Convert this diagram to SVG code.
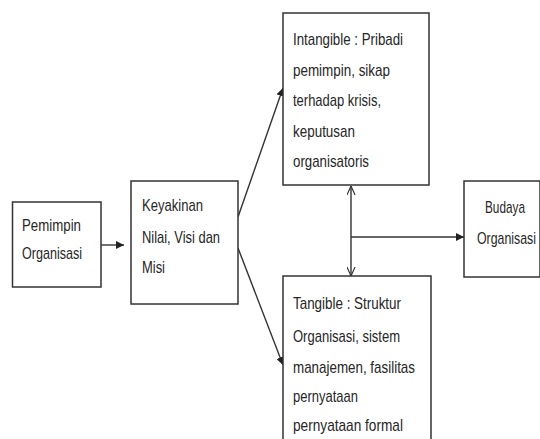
<svg xmlns="http://www.w3.org/2000/svg" width="540" height="439" viewBox="0 0 540 439">
<style>
.box{fill:#fff;stroke:#333;stroke-width:1.5}
.t{font-family:"Liberation Sans",Arial,sans-serif;font-size:17px;fill:#262626}
.e{text-anchor:end}
.c{fill:none;stroke:#333;stroke-width:1.4}
</style>
<defs>
<marker id="fa" viewBox="0 0 10 10" refX="10" refY="5" markerWidth="8" markerHeight="8" markerUnits="userSpaceOnUse" orient="auto">
<path d="M0,0 L10,5 L0,10 z" fill="#222"/>
</marker>
<marker id="oa" viewBox="0 0 10 10" refX="10" refY="5" markerWidth="10" markerHeight="9" markerUnits="userSpaceOnUse" orient="auto-start-reverse">
<path d="M0,0.5 L10,5 L0,9.5" fill="none" stroke="#333" stroke-width="1.3"/>
</marker>
</defs>
<rect width="540" height="439" fill="#fff"/>
<g id="connectors">
<line class="c" x1="101" y1="245" x2="124" y2="245" marker-end="url(#fa)"/>
<line class="c" x1="238" y1="217" x2="283" y2="88" marker-end="url(#fa)"/>
<line class="c" x1="238" y1="248" x2="283" y2="365" marker-end="url(#fa)"/>
<line class="c" x1="351" y1="186" x2="351" y2="276" marker-start="url(#oa)" marker-end="url(#oa)"/>
<line class="c" x1="351" y1="237" x2="464" y2="237" marker-end="url(#fa)"/>
</g>
<g id="pemimpin">
<rect class="box" x="12.5" y="202" width="88.5" height="85"/>
<text class="t" x="22" y="231" textLength="59" lengthAdjust="spacingAndGlyphs">Pemimpin</text>
<text class="t" x="22" y="259" textLength="60" lengthAdjust="spacingAndGlyphs">Organisasi</text>
</g>
<g id="keyakinan">
<rect class="box" x="131" y="181" width="107" height="123"/>
<text class="t" x="142" y="211" textLength="61" lengthAdjust="spacingAndGlyphs">Keyakinan</text>
<text class="t" x="142" y="243" textLength="78" lengthAdjust="spacingAndGlyphs">Nilai, Visi dan</text>
<text class="t" x="142" y="273" textLength="23" lengthAdjust="spacingAndGlyphs">Misi</text>
</g>
<g id="intangible">
<rect class="box" x="283" y="13" width="146" height="172"/>
<text class="t" x="293" y="45" textLength="110" lengthAdjust="spacingAndGlyphs">Intangible : Pribadi</text>
<text class="t" x="293" y="76" textLength="97" lengthAdjust="spacingAndGlyphs">pemimpin, sikap</text>
<text class="t" x="293" y="106" textLength="88" lengthAdjust="spacingAndGlyphs">terhadap krisis,</text>
<text class="t" x="293" y="137" textLength="62" lengthAdjust="spacingAndGlyphs">keputusan</text>
<text class="t" x="293" y="167" textLength="76" lengthAdjust="spacingAndGlyphs">organisatoris</text>
</g>
<g id="budaya">
<rect class="box" x="464" y="181" width="76" height="96"/>
<text class="t e" x="525" y="213" textLength="40" lengthAdjust="spacingAndGlyphs">Budaya</text>
<text class="t e" x="536" y="244" textLength="59" lengthAdjust="spacingAndGlyphs">Organisasi</text>
</g>
<g id="tangible">
<rect class="box" x="283" y="276" width="148" height="180"/>
<text class="t" x="293" y="309" textLength="108" lengthAdjust="spacingAndGlyphs">Tangible : Struktur</text>
<text class="t" x="293" y="342" textLength="107" lengthAdjust="spacingAndGlyphs">Organisasi, sistem</text>
<text class="t" x="293" y="373" textLength="122" lengthAdjust="spacingAndGlyphs">manajemen, fasilitas</text>
<text class="t" x="293" y="402" textLength="65" lengthAdjust="spacingAndGlyphs">pernyataan</text>
<text class="t" x="293" y="431" textLength="110" lengthAdjust="spacingAndGlyphs">pernyataan formal</text>
</g>
</svg>
